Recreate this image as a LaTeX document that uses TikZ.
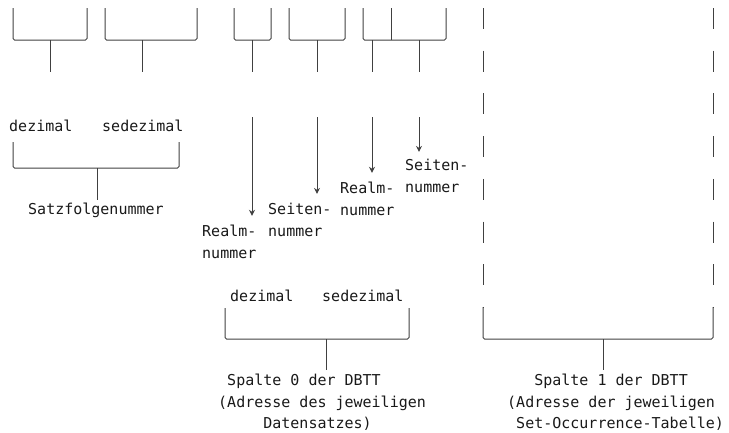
\documentclass[tikz,border=0pt]{standalone}
\usepackage{fontspec}
\usepackage{tikz}
\setmonofont{DejaVu Sans Mono}
\usetikzlibrary{arrows.meta}
\usetikzlibrary{positioning}
\definecolor{mgray}{rgb}{0.25, 0.25, 0.25}
\newlength{\chw}
\newcommand{\lblfont}{\ttfamily\fontsize{15}{21.5}\selectfont}
\newcommand{\ind}[1]{\hspace*{#1\chw}}
\AtBeginDocument{\settowidth{\chw}{\lblfont x}}
\tikzset{
  brk/.style={mgray, line width=1pt, rounded corners=1.5pt},
  tick/.style={mgray, line width=1pt},
  dashcol/.style={mgray, line width=1pt, dash pattern=on 21pt off 21.7pt},
  ptr/.style={mgray, line width=1pt, shorten >=9pt, -{Stealth[length=6pt, width=6pt]}},
  lbl/.style={font=\lblfont, text=black!90, inner sep=0pt, anchor=base west, align=left},
}

\begin{document}
\begin{tikzpicture}[x=1pt, y=-1pt]
    \useasboundingbox (0, 0) rectangle (729, 432);

    % top row of brackets
    \draw [brk] (13, 8) -- (13, 40) -- (87, 40) -- (87, 8);
    \draw [brk] (105, 8) -- (105, 40) -- (197, 40) -- (197, 8);
    \draw [brk] (234, 8) -- (234, 40) -- (271, 40) -- (271, 8);
    \draw [brk] (289, 8) -- (289, 40) -- (345, 40) -- (345, 8);
    \draw [brk] (363, 8) -- (363, 40) -- (446, 40) -- (446, 8);
    \draw [tick] (391, 8) -- (391, 40);

    \draw [tick] (50, 40) -- (50, 72) coordinate (t1);
    \draw [tick] (142, 40) -- (142, 72) coordinate (t2);
    \draw [tick] (252, 40) -- (252, 72) coordinate (t3);
    \draw [tick] (317, 40) -- (317, 72) coordinate (t4);
    \draw [tick] (372, 40) -- (372, 72) coordinate (t5);
    \draw [tick] (419, 40) -- (419, 72) coordinate (t6);

    % Satzfolgenummer
    \node [lbl] (dez1) at (9, 131) {dezimal};
    \node [lbl] (sdz1) at (102, 131) {sedezimal};
    \draw [brk] (13, 142) -- (13, 168) -- (179, 168) -- (179, 142);
    \coordinate (k1) at (97, 168);
    \node [lbl] (sfn) at (28, 214.5) {Satzfolgenummer};
    \draw [tick, shorten >=3pt] (k1) -- (k1 |- sfn.north);

    % Realm- und Seitennummern (base = last line)
    \node [lbl] (rlm1) at (202, 258) {Realm-\\nummer};
    \node [lbl] (sei1) at (268, 236) {Seiten-\\nummer};
    \node [lbl] (rlm2) at (340, 215) {Realm-\\nummer};
    \node [lbl] (sei2) at (405, 192) {Seiten-\\nummer};
    \coordinate (s3) at (252, 117);
    \coordinate (s4) at (317, 117);
    \coordinate (s5) at (372, 117);
    \coordinate (s6) at (419, 117);
    \draw [ptr] (s3) -- (s3 |- rlm1.north);
    \draw [ptr] (s4) -- (s4 |- sei1.north);
    \draw [ptr] (s5) -- (s5 |- rlm2.north);
    \draw [ptr, shorten >=7pt] (s6) -- (s6 |- sei2.north);

    % Spalte 0
    \node [lbl] (dez2) at (230, 301.5) {dezimal};
    \node [lbl] (sdz2) at (322, 301.5) {sedezimal};
    \draw [brk] (225, 308) -- (225, 339) -- (409, 339) -- (409, 308);
    \coordinate (k2) at (326, 339);
    \node [lbl] (sp0) at (218, 428.5)
      {\ind{1}Spalte 0 der DBTT\\(Adresse des jeweiligen\\\ind{5}Datensatzes)};
    \draw [tick, shorten >=4pt] (k2) -- (k2 |- sp0.north);

    % Spalte 1
    \draw [dashcol] (483, 8) -- (483, 307);
    \draw [dashcol] (713, 8) -- (713, 307);
    \draw [brk] (483, 307) -- (483, 339) -- (713, 339) -- (713, 307);
    \coordinate (k3) at (603, 339);
    \node [lbl] (sp1) at (507, 428.5)
      {\ind{3}Spalte 1 der DBTT\\(Adresse der jeweiligen\\\ind{1}Set-Occurrence-Tabelle)};
    \draw [tick, shorten >=4pt] (k3) -- (k3 |- sp1.north);
  \end{tikzpicture}
\end{document}
